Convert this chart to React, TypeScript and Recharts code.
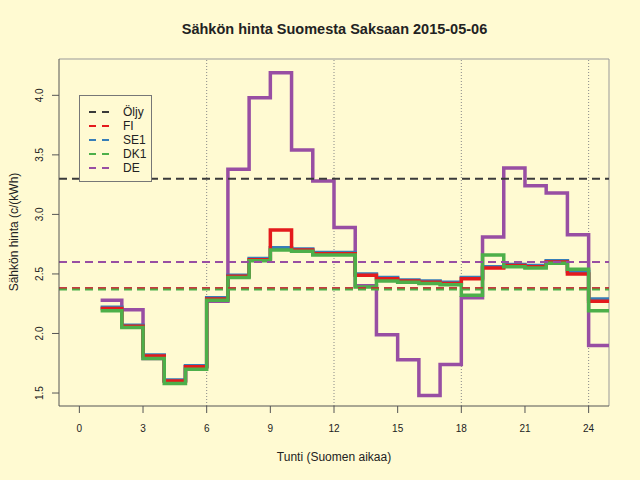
import React from 'react';
import { LineChart, Line, XAxis, YAxis, ReferenceLine, Legend } from 'recharts';

// tuntihinnat c/kWh, tunnit 1..24 (Suomen aikaa)
const hours = [1, 2, 3, 4, 5, 6, 7, 8, 9, 10, 11, 12, 13, 14, 15, 16, 17, 18, 19, 20, 21, 22, 23, 24];
const fi = [2.21, 2.06, 1.81, 1.60, 1.72, 2.29, 2.48, 2.62, 2.87, 2.70, 2.67, 2.67, 2.49, 2.46, 2.44, 2.43, 2.42, 2.46, 2.55, 2.57, 2.56, 2.60, 2.50, 2.27];
const se1 = [2.22, 2.07, 1.82, 1.61, 1.73, 2.30, 2.49, 2.63, 2.72, 2.71, 2.68, 2.68, 2.50, 2.47, 2.45, 2.44, 2.43, 2.47, 2.56, 2.58, 2.57, 2.61, 2.52, 2.29];
const dk1 = [2.19, 2.05, 1.79, 1.58, 1.70, 2.28, 2.47, 2.61, 2.70, 2.69, 2.66, 2.66, 2.39, 2.44, 2.43, 2.42, 2.41, 2.32, 2.66, 2.56, 2.55, 2.59, 2.54, 2.19];
const de = [2.28, 2.20, 1.79, 1.60, 1.72, 2.27, 3.38, 3.98, 4.19, 3.54, 3.28, 2.89, 2.40, 1.99, 1.78, 1.48, 1.74, 2.30, 2.81, 3.39, 3.24, 3.18, 2.83, 1.90];

// vuorokauden keskiarvot + öljyn vertailuhinta
const oljy = 3.30;
const fiAvg = 2.38;
const se1Avg = 2.38;
const dk1Avg = 2.37;
const deAvg = 2.60;

const xTicks = [0, 3, 6, 9, 12, 15, 18, 21, 24];
const yTicks = [1.5, 2.0, 2.5, 3.0, 3.5, 4.0];
const vLines = [6, 12, 18, 24];

const colors = {
    oljy: '#3a3a3a',
    fi: '#E41A1C',
    se1: '#377EB8',
    dk1: '#4DAF4A',
    de: '#984EA3',
};

const legendItems = [
    { name: 'Öljy', color: colors.oljy },
    { name: 'FI', color: colors.fi },
    { name: 'SE1', color: colors.se1 },
    { name: 'DK1', color: colors.dk1 },
    { name: 'DE', color: colors.de },
];

// step-viiva tarvitsee loppupisteen tunnille 25
const chartData = [...hours, 25].map((h, i) => {
    const k = Math.min(i, hours.length - 1);
    return { hour: h, fi: fi[k], se1: se1[k], dk1: dk1[k], de: de[k] };
});

const FONT = '"Liberation Sans", Arial, sans-serif';
const TEXT = '#222';
const AXIS = '#555';
const BOX = '#999';
const BG = '#FFFAD2';

const YTick = (props: any) => {
    const { x, y, payload } = props;
    return (
        <text
            x={x - 7}
            y={y}
            transform={`rotate(-90, ${x - 7}, ${y})`}
            textAnchor="middle"
            fontSize={10}
            fontFamily={FONT}
            fill={TEXT}
        >
            {payload.value.toFixed(1)}
        </text>
    );
};

const XTick = (props: any) => {
    const { x, y, payload } = props;
    return (
        <text x={x} y={y + 17} textAnchor="middle" fontSize={10} fontFamily={FONT} fill={TEXT}>
            {payload.value}
        </text>
    );
};

const LegendBox = () => (
    <div
        style={{
            border: '1px solid #777',
            width: 71,
            height: 85,
            boxSizing: 'content-box',
            background: BG,
            fontFamily: FONT,
            fontSize: 12,
            color: TEXT,
            position: 'relative',
        }}
    >
        {legendItems.map((item, i) => (
            <div key={item.name} style={{ position: 'absolute', left: 0, top: 9 + i * 14, height: 14, width: 71 }}>
                <svg width={30} height={14} style={{ position: 'absolute', left: 9, top: 0 }}>
                    <line x1={0} y1={7} x2={21} y2={7} stroke={item.color} strokeWidth={2} strokeDasharray="7 6" />
                </svg>
                <span style={{ position: 'absolute', left: 43, top: 0, lineHeight: '14px' }}>{item.name}</span>
            </div>
        ))}
    </div>
);

const App = () => {
    return (
        <div style={{ position: 'absolute', left: 0, top: 0, width: 640, height: 480, background: BG }}>
            <div
                style={{
                    position: 'absolute',
                    left: 0,
                    width: 669,
                    top: 21,
                    textAlign: 'center',
                    fontFamily: FONT,
                    fontWeight: 'bold',
                    fontSize: 14.5,
                    color: TEXT,
                }}
            >
                Sähkön hinta Suomesta Saksaan 2015-05-06
            </div>
            <div
                style={{
                    position: 'absolute',
                    left: 0,
                    width: 668,
                    top: 450,
                    textAlign: 'center',
                    fontFamily: FONT,
                    fontSize: 12,
                    color: TEXT,
                }}
            >
                Tunti (Suomen aikaa)
            </div>
            <div
                style={{
                    position: 'absolute',
                    left: 14,
                    top: 232,
                    transform: 'translate(-50%, -50%) rotate(-90deg)',
                    whiteSpace: 'nowrap',
                    fontFamily: FONT,
                    fontSize: 12,
                    color: TEXT,
                }}
            >
                Sähkön hinta (c/(kWh)
            </div>
            <LineChart
                width={640}
                height={480}
                data={chartData}
                margin={{ top: 59, right: 31, bottom: 44, left: 19 }}
            >
                <XAxis
                    dataKey="hour"
                    type="number"
                    domain={[-0.96, 24.96]}
                    ticks={xTicks}
                    allowDataOverflow
                    height={30}
                    tickSize={7}
                    tick={<XTick />}
                    axisLine={{ stroke: AXIS }}
                    tickLine={{ stroke: AXIS }}
                />
                <YAxis
                    type="number"
                    domain={[1.391, 4.305]}
                    ticks={yTicks}
                    allowDataOverflow
                    width={40}
                    tickSize={7}
                    tick={<YTick />}
                    axisLine={{ stroke: AXIS }}
                    tickLine={{ stroke: AXIS }}
                />
                <ReferenceLine y={4.305} stroke={BOX} />
                <ReferenceLine x={24.96} stroke={BOX} />
                {vLines.map((v) => (
                    <ReferenceLine key={v} x={v} stroke="#888" strokeDasharray="1 2" />
                ))}
                <Line type="stepAfter" dataKey="de" stroke={colors.de} strokeWidth={3.5} dot={false} isAnimationActive={false} />
                <Line type="stepAfter" dataKey="se1" stroke={colors.se1} strokeWidth={3.5} dot={false} isAnimationActive={false} />
                <Line type="stepAfter" dataKey="fi" stroke={colors.fi} strokeWidth={3.5} dot={false} isAnimationActive={false} />
                <Line type="stepAfter" dataKey="dk1" stroke={colors.dk1} strokeWidth={3.5} dot={false} isAnimationActive={false} />
                <ReferenceLine y={oljy} stroke={colors.oljy} strokeWidth={2} strokeDasharray="8 5" />
                <ReferenceLine y={deAvg} stroke={colors.de} strokeWidth={2} strokeDasharray="8 5" />
                <ReferenceLine y={se1Avg} stroke={colors.se1} strokeWidth={2} strokeDasharray="8 5" />
                <ReferenceLine y={fiAvg} stroke={colors.fi} strokeWidth={2} strokeDasharray="8 5" />
                <ReferenceLine y={dk1Avg} stroke={colors.dk1} strokeWidth={2} strokeDasharray="8 5" />
                <Legend
                    layout="vertical"
                    align="center"
                    verticalAlign="middle"
                    content={<LegendBox />}
                    wrapperStyle={{ position: 'absolute', left: 79, top: 95, width: 73, height: 87, zIndex: 5 }}
                />
            </LineChart>
        </div>
    );
};

export default App;
